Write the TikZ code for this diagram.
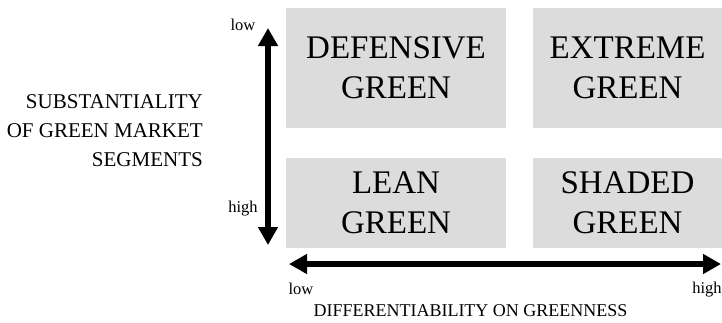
\documentclass[tikz,border=0pt]{standalone}
\usepackage{fontspec}
\setmainfont{Liberation Serif}
\usetikzlibrary{arrows.meta}
\definecolor{boxgray}{RGB}{220,220,220}
\tikzset{
  quad/.style={fill=boxgray, draw=none, inner sep=0pt, align=center,
    font=\fontsize{33}{40}\selectfont},
  axisarrow/.style={line width=6.5pt, {Triangle[width=19pt,length=18pt]}-{Triangle[width=19pt,length=18pt]}},
  small/.style={font=\fontsize{16.5}{19}\selectfont, inner sep=0pt},
  axislabel/.style={font=\fontsize{21}{29}\selectfont, inner sep=0pt},
}
\begin{document}
\begin{tikzpicture}[x=1pt,y=-1pt]
\useasboundingbox (0,0) rectangle (722,322);
\node[quad, minimum width=220pt, minimum height=120pt] (dg) at (396,68) {DEFENSIVE\\GREEN};
\node[quad, minimum width=189pt, minimum height=120pt] (eg) at (627.5,68) {EXTREME\\GREEN};
\node[quad, minimum width=220pt, minimum height=90pt] (lg) at (396,203) {LEAN\\GREEN};
\node[quad, minimum width=189pt, minimum height=90pt] (sg) at (627.5,203) {SHADED\\GREEN};
\coordinate (vtop) at (268,28);
\coordinate (vbot) at (268,245);
\coordinate (hleft) at (289,264);
\coordinate (hright) at (721,264);
\draw[axisarrow] (vtop) -- (vbot);
\draw[axisarrow] (hleft) -- (hright);
\node[small] (vlow) at (243,25) {low};
\node[small] (vhigh) at (243,209) {high};
\node[small] (hlow) at (301,288.5) {low};
\node[small] (hhigh) at (707,289.5) {high};
\node[axislabel, align=right, anchor=east] (ylab) at (203,131) {SUBSTANTIALITY\\OF GREEN MARKET\\SEGMENTS};
\node[font=\fontsize{18}{20}\selectfont, inner sep=0pt] (xlab) at (470.5,311) {DIFFERENTIABILITY ON GREENNESS};
\end{tikzpicture}
\end{document}
